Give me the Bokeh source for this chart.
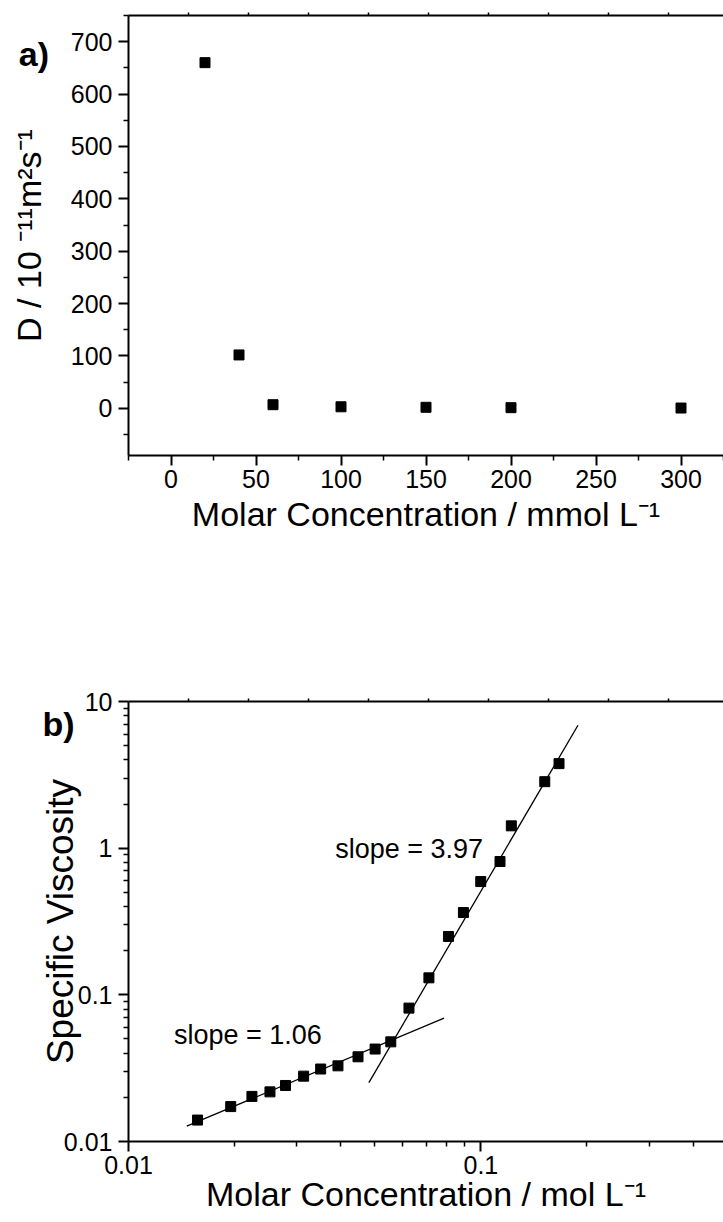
from bokeh.plotting import figure
from bokeh.models import Range1d, LinearAxis, LinearScale, FixedTicker, Label
from bokeh.layouts import column
from bokeh.embed import file_html
from bokeh.resources import INLINE

# ---------------- data ----------------
# panel a: diffusion coefficient vs molar concentration
conc_mmol = [20, 40, 60, 100, 150, 200, 300]
diff_coef = [660, 102, 7, 3, 2, 1.3, 0.6]
a_xticks = [0, 50, 100, 150, 200, 250, 300]
a_xminor = [-25, 25, 75, 125, 175, 225, 275, 325]
a_yticks = [0, 100, 200, 300, 400, 500, 600, 700]
a_yminor = [-50, 50, 150, 250, 350, 450, 550, 650, 750]

# panel b: specific viscosity vs molar concentration (log-log)
conc_mol = [0.0157, 0.0195, 0.0224, 0.0252, 0.0279, 0.0314, 0.0351, 0.0393,
            0.0448, 0.0501, 0.0555, 0.0625, 0.0712, 0.0809, 0.0892, 0.0999,
            0.1133, 0.122, 0.1518, 0.1666]
spec_visc = [0.0140, 0.0173, 0.0203, 0.0218, 0.0241, 0.0279, 0.0312, 0.0328,
             0.0378, 0.0427, 0.0478, 0.0812, 0.1306, 0.25, 0.364, 0.592,
             0.811, 1.42, 2.84, 3.77]
fit_low_x = [0.01463, 0.0786]
fit_low_y = [0.01274, 0.0694]
fit_high_x = [0.0481, 0.1886]
fit_high_y = [0.0252, 6.89]
b_xticks = [0.01, 0.1]
b_xminor = [0.02, 0.03, 0.04, 0.05, 0.06, 0.07, 0.08, 0.09, 0.2, 0.3, 0.4]
b_yticks = [0.01, 0.1, 1, 10]
b_yminor = [0.02, 0.03, 0.04, 0.05, 0.06, 0.07, 0.08, 0.09,
            0.2, 0.3, 0.4, 0.5, 0.6, 0.7, 0.8, 0.9,
            2, 3, 4, 5, 6, 7, 8, 9]
top_ticks = [1, 2, 3, 4, 5, 6, 7, 8, 9]

FONT = "Liberation Sans"


def style_axis(ax, label_size="35px"):
    ax.axis_line_width = 2
    ax.axis_line_color = "black"
    ax.major_tick_line_width = 2
    ax.minor_tick_line_width = 1.5
    ax.major_tick_line_color = "black"
    ax.minor_tick_line_color = "black"
    ax.major_tick_out = 10
    ax.major_tick_in = 0
    ax.minor_tick_out = 5
    ax.minor_tick_in = 0
    ax.major_label_text_font = FONT
    ax.major_label_text_font_size = "25px"
    ax.major_label_text_color = "black"
    ax.axis_label_text_font = FONT
    ax.axis_label_text_font_style = "normal"
    ax.axis_label_text_font_size = label_size
    ax.axis_label_text_color = "black"


def add_top(p):
    # top frame line with small unlabeled tick marks (minor ticks only -> no labels)
    top = LinearAxis(x_range_name="top", ticker=FixedTicker(ticks=[], minor_ticks=top_ticks))
    top.axis_line_width = 2
    top.axis_line_color = "black"
    top.minor_tick_out = 3
    top.minor_tick_in = 0
    top.minor_tick_line_width = 1.5
    top.minor_tick_line_color = "black"
    top.major_tick_out = 0
    top.major_tick_in = 0
    p.add_layout(top, "above")


# ---------------- panel a ----------------
p1 = figure(width=723, height=600, x_range=Range1d(-25, 325), y_range=Range1d(-90, 750),
            output_backend="svg", toolbar_location=None,
            min_border_left=128, min_border_right=0, min_border_top=15, min_border_bottom=145)
p1.extra_x_ranges = {"top": Range1d(0, 595 / 60)}
p1.extra_x_scales = {"top": LinearScale()}
p1.outline_line_color = None
p1.xgrid.visible = False
p1.ygrid.visible = False
p1.scatter(conc_mmol, diff_coef, marker="square", size=10, color="black")

xa = p1.xaxis[0]
xa.ticker = FixedTicker(ticks=a_xticks, minor_ticks=a_xminor)
xa.axis_label = "Molar Concentration / mmol L\u207b\u00b9"
style_axis(xa, "34px")
xa.major_label_standoff = 4
xa.axis_label_standoff = 4

ya = p1.yaxis[0]
ya.ticker = FixedTicker(ticks=a_yticks, minor_ticks=a_yminor)
ya.axis_label = "D / 10 \u207b\u00b9\u00b9m\u00b2s\u207b\u00b9"
style_axis(ya, "34px")
ya.major_label_standoff = 6
ya.axis_label_standoff = 20
add_top(p1)

# panel tag, placed in a side panel so it is not clipped to the plot frame
p1.add_layout(Label(x=-89.5, y=677, text="a)", text_font=FONT, text_font_style="bold",
                    text_font_size="34px", text_color="black", text_baseline="alphabetic"),
              "below")

# ---------------- panel b ----------------
p2 = figure(width=723, height=622, x_axis_type="log", y_axis_type="log",
            x_range=Range1d(0.01, 0.488), y_range=Range1d(0.01, 10),
            output_backend="svg", toolbar_location=None,
            min_border_left=128, min_border_right=0, min_border_top=101, min_border_bottom=81)
p2.extra_x_ranges = {"top": Range1d(0, 595 / 60)}
p2.extra_x_scales = {"top": LinearScale()}
p2.outline_line_color = None
p2.xgrid.visible = False
p2.ygrid.visible = False
p2.line(fit_low_x, fit_low_y, line_color="black", line_width=1.3)
p2.line(fit_high_x, fit_high_y, line_color="black", line_width=1.3)
p2.scatter(conc_mol, spec_visc, marker="square", size=10, color="black")

xb = p2.xaxis[0]
xb.ticker = FixedTicker(ticks=b_xticks, minor_ticks=b_xminor)
xb.major_label_overrides = {0.01: "0.01", 0.1: "0.1"}
xb.axis_label = "Molar Concentration / mol L\u207b\u00b9"
style_axis(xb, "34px")
xb.major_label_standoff = 4
xb.axis_label_standoff = -2

yb = p2.yaxis[0]
yb.ticker = FixedTicker(ticks=b_yticks, minor_ticks=b_yminor)
yb.major_label_overrides = {0.01: "0.01", 0.1: "0.1", 1: "1", 10: "10"}
yb.axis_label = "Specific Viscosity"
style_axis(yb, "37px")
yb.major_label_standoff = 6
yb.axis_label_standoff = -20
add_top(p2)

p2.add_layout(Label(x=0.0057, y=7.05, text="b)", text_font=FONT, text_font_style="bold",
                    text_font_size="34px", text_color="black", text_baseline="alphabetic"),
              "above")
p2.add_layout(Label(x=0.01346, y=0.0531, text="slope = 1.06", text_font=FONT,
                    text_font_size="27px", text_color="black", text_baseline="alphabetic"))
p2.add_layout(Label(x=0.0386, y=0.994, text="slope = 3.97", text_font=FONT,
                    text_font_size="27px", text_color="black", text_baseline="alphabetic"))

layout = column(p1, p2, spacing=0)
open("out.html", "w").write(file_html(layout, INLINE))
